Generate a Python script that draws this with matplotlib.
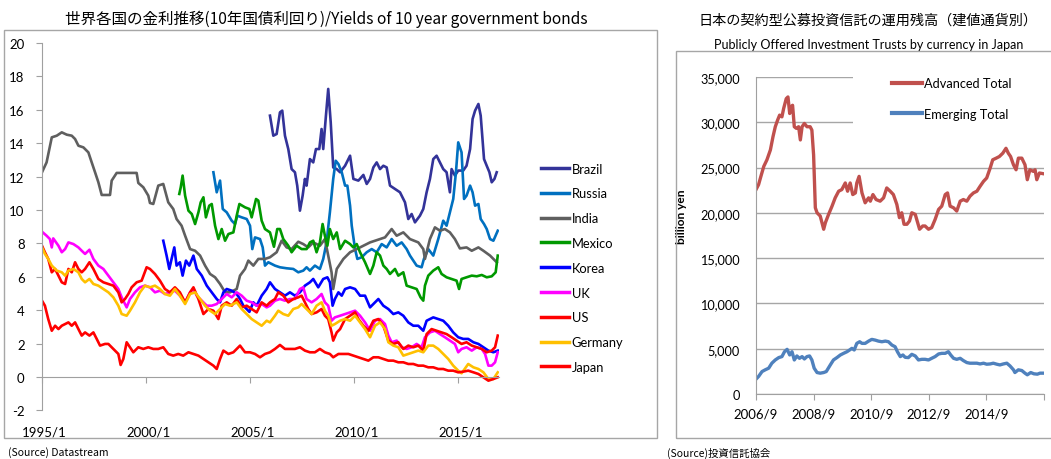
import matplotlib
matplotlib.use("Agg")
import matplotlib.pyplot as plt
import matplotlib.transforms as mtransforms
from matplotlib.patches import Rectangle
from matplotlib.ticker import FuncFormatter

plt.rcParams['axes.unicode_minus'] = False
NUMFONT = ['Lato', 'DejaVu Sans']
JPFONT = ['Noto Sans CJK JP', 'DejaVu Sans']

# ---------------- Left chart data (decimal year, % yield) ----------------
brazil_t = [2005.96, 2006.12, 2006.28, 2006.44, 2006.55, 2006.68, 2006.84, 2007.00, 2007.16, 2007.27, 2007.40, 2007.53, 2007.64, 2007.72, 2007.88, 2008.04, 2008.17, 2008.33, 2008.44, 2008.52, 2008.65, 2008.76, 2008.88, 2009.00, 2009.17, 2009.33, 2009.57, 2009.81, 2009.97, 2010.21, 2010.45, 2010.61, 2010.77, 2010.93, 2011.09, 2011.25, 2011.41, 2011.57, 2011.73, 2011.97, 2012.21, 2012.45, 2012.61, 2012.77, 2012.93, 2013.17, 2013.33, 2013.49, 2013.65, 2013.81, 2013.97, 2014.13, 2014.29, 2014.45, 2014.61, 2014.69, 2014.85, 2015.01, 2015.25, 2015.41, 2015.58, 2015.70, 2015.82, 2015.98, 2016.09, 2016.25, 2016.38, 2016.51, 2016.62, 2016.75, 2016.86]
brazil_v = [15.65, 14.45, 14.55, 15.85, 15.95, 14.45, 13.65, 12.45, 12.26, 11.46, 9.96, 10.86, 11.86, 11.46, 13.05, 12.85, 13.65, 13.65, 14.85, 13.65, 15.65, 17.25, 15.25, 12.55, 12.45, 12.26, 12.65, 13.25, 11.86, 11.76, 12.10, 11.56, 11.86, 12.55, 12.85, 12.45, 12.65, 12.55, 11.46, 11.26, 11.06, 10.46, 9.46, 9.76, 9.26, 9.66, 10.06, 11.06, 11.86, 13.05, 13.25, 12.85, 12.45, 12.26, 11.06, 12.45, 12.06, 12.36, 12.36, 12.65, 13.65, 15.45, 15.95, 16.35, 15.65, 13.05, 12.65, 12.26, 11.66, 11.86, 12.26]

russia_t = [2003.24, 2003.40, 2003.56, 2003.69, 2003.88, 2004.12, 2004.28, 2004.39, 2004.60, 2004.84, 2005.00, 2005.11, 2005.24, 2005.48, 2005.61, 2005.72, 2005.88, 2006.20, 2006.44, 2006.76, 2007.08, 2007.32, 2007.56, 2007.72, 2007.88, 2008.12, 2008.36, 2008.52, 2008.68, 2008.84, 2009.00, 2009.12, 2009.25, 2009.41, 2009.57, 2009.68, 2009.81, 2009.89, 2010.05, 2010.16, 2010.37, 2010.61, 2010.85, 2011.09, 2011.33, 2011.57, 2011.81, 2012.05, 2012.29, 2012.53, 2012.69, 2013.01, 2013.25, 2013.36, 2013.57, 2013.81, 2014.05, 2014.29, 2014.45, 2014.61, 2014.77, 2014.90, 2015.01, 2015.17, 2015.29, 2015.41, 2015.58, 2015.70, 2015.82, 2015.98, 2016.09, 2016.25, 2016.38, 2016.54, 2016.70, 2016.91]
russia_v = [12.26, 11.06, 11.76, 10.06, 9.86, 9.36, 9.16, 9.66, 9.56, 9.46, 9.06, 7.66, 8.36, 8.26, 7.76, 6.67, 6.87, 6.67, 6.57, 6.51, 6.47, 6.27, 6.37, 6.57, 6.37, 6.67, 6.47, 7.07, 8.06, 9.86, 11.86, 12.95, 12.75, 12.26, 11.46, 11.46, 10.26, 9.06, 7.66, 7.07, 7.17, 7.47, 7.66, 7.47, 7.96, 7.76, 8.26, 7.86, 8.06, 7.66, 7.27, 6.67, 6.57, 7.07, 7.66, 7.27, 8.26, 9.36, 9.06, 9.86, 10.66, 12.26, 14.05, 13.45, 10.66, 10.86, 11.46, 11.06, 10.26, 10.36, 9.46, 9.16, 8.86, 8.26, 8.16, 8.76]

india_t = [1995.00, 1995.22, 1995.47, 1995.71, 1995.95, 1996.19, 1996.43, 1996.59, 1996.75, 1996.99, 1997.23, 1997.39, 1997.55, 1997.71, 1997.87, 1998.27, 1998.35, 1998.59, 1999.55, 1999.63, 1999.87, 2000.11, 2000.19, 2000.35, 2000.59, 2000.83, 2001.07, 2001.31, 2001.47, 2001.71, 2001.88, 2002.12, 2002.36, 2002.60, 2002.84, 2003.08, 2003.32, 2003.56, 2003.80, 2004.04, 2004.36, 2004.52, 2004.76, 2004.92, 2005.16, 2005.40, 2005.72, 2005.96, 2006.28, 2006.52, 2006.76, 2007.00, 2007.32, 2007.56, 2007.80, 2008.04, 2008.36, 2008.60, 2008.76, 2008.92, 2009.00, 2009.17, 2009.49, 2009.81, 2010.13, 2010.45, 2010.77, 2011.25, 2011.49, 2011.81, 2012.05, 2012.37, 2012.69, 2013.09, 2013.33, 2013.41, 2013.65, 2013.89, 2014.13, 2014.37, 2014.61, 2014.85, 2015.09, 2015.41, 2015.66, 2015.98, 2016.22, 2016.54, 2016.86]
india_v = [12.26, 12.85, 14.35, 14.45, 14.65, 14.51, 14.45, 14.25, 13.85, 13.75, 13.45, 12.85, 12.26, 11.66, 10.90, 10.90, 11.76, 12.22, 12.22, 11.62, 11.36, 10.86, 10.42, 10.36, 11.46, 11.56, 10.46, 10.06, 9.46, 9.06, 8.46, 7.66, 7.56, 7.27, 6.67, 6.17, 5.97, 5.57, 5.07, 5.07, 5.27, 6.07, 6.47, 6.97, 6.67, 7.07, 7.07, 7.17, 7.47, 8.16, 7.76, 7.66, 8.10, 7.96, 7.76, 8.06, 7.86, 8.26, 7.27, 6.27, 5.27, 6.47, 7.07, 7.47, 7.66, 7.86, 8.06, 8.26, 8.36, 8.86, 8.46, 8.66, 8.26, 8.06, 7.66, 7.07, 8.26, 8.96, 8.76, 8.86, 8.66, 8.26, 7.70, 7.76, 7.56, 7.76, 7.56, 7.27, 6.87]

mexico_t = [2001.60, 2001.67, 2001.76, 2001.88, 2002.04, 2002.20, 2002.36, 2002.52, 2002.63, 2002.76, 2002.88, 2003.04, 2003.16, 2003.32, 2003.48, 2003.64, 2003.80, 2003.96, 2004.20, 2004.36, 2004.49, 2004.76, 2004.97, 2005.08, 2005.29, 2005.40, 2005.56, 2005.72, 2005.96, 2006.15, 2006.31, 2006.44, 2006.60, 2006.84, 2007.00, 2007.24, 2007.48, 2007.72, 2007.88, 2008.04, 2008.20, 2008.36, 2008.49, 2008.60, 2008.72, 2008.84, 2009.00, 2009.17, 2009.33, 2009.57, 2009.81, 2009.97, 2010.13, 2010.29, 2010.53, 2010.77, 2010.93, 2011.09, 2011.25, 2011.41, 2011.57, 2011.73, 2011.97, 2012.13, 2012.37, 2012.53, 2012.77, 2013.01, 2013.20, 2013.33, 2013.41, 2013.57, 2013.81, 2014.05, 2014.21, 2014.45, 2014.69, 2014.93, 2015.05, 2015.17, 2015.41, 2015.66, 2015.90, 2016.14, 2016.38, 2016.62, 2016.81, 2016.91]
mexico_v = [10.96, 11.36, 12.06, 10.86, 9.96, 9.76, 9.16, 9.86, 10.46, 10.76, 9.56, 10.26, 10.36, 9.06, 8.26, 8.86, 8.16, 8.56, 8.66, 9.66, 10.36, 10.16, 10.06, 9.56, 10.66, 10.56, 9.36, 8.86, 8.66, 7.80, 8.86, 8.86, 8.26, 7.86, 7.47, 7.86, 7.66, 7.66, 8.06, 8.16, 7.47, 8.06, 9.16, 8.46, 7.86, 8.86, 8.26, 8.66, 7.66, 8.16, 7.96, 7.76, 7.96, 7.47, 6.87, 6.17, 6.67, 7.47, 7.27, 6.67, 6.47, 6.17, 6.47, 6.07, 6.27, 5.47, 5.37, 5.27, 4.77, 4.57, 5.47, 6.07, 6.37, 6.57, 6.17, 5.97, 5.87, 5.77, 5.27, 5.87, 5.97, 6.07, 6.03, 6.11, 5.97, 6.03, 6.27, 7.27]

korea_t = [2000.83, 2000.99, 2001.12, 2001.23, 2001.36, 2001.47, 2001.63, 2001.76, 2001.92, 2002.08, 2002.28, 2002.44, 2002.68, 2002.92, 2003.16, 2003.40, 2003.56, 2003.72, 2003.88, 2004.12, 2004.36, 2004.52, 2004.68, 2004.97, 2005.16, 2005.32, 2005.56, 2005.80, 2005.96, 2006.20, 2006.44, 2006.68, 2006.92, 2007.16, 2007.40, 2007.64, 2007.88, 2008.04, 2008.28, 2008.52, 2008.72, 2008.84, 2008.97, 2009.08, 2009.25, 2009.41, 2009.57, 2009.81, 2010.05, 2010.29, 2010.53, 2010.77, 2011.01, 2011.17, 2011.41, 2011.65, 2011.89, 2012.13, 2012.37, 2012.61, 2012.85, 2013.09, 2013.33, 2013.49, 2013.81, 2014.05, 2014.29, 2014.53, 2014.77, 2015.01, 2015.25, 2015.49, 2015.74, 2015.98, 2016.22, 2016.46, 2016.70, 2016.91]
korea_v = [8.16, 7.27, 6.47, 7.07, 7.76, 6.67, 6.87, 6.07, 6.97, 6.67, 7.27, 6.47, 6.07, 5.47, 5.07, 4.67, 4.47, 5.07, 5.27, 5.17, 4.97, 4.67, 4.27, 3.90, 4.47, 4.27, 4.87, 5.27, 5.67, 5.27, 5.07, 4.87, 5.07, 4.87, 5.07, 5.47, 5.67, 5.87, 5.37, 5.87, 5.97, 5.67, 4.27, 4.67, 5.07, 4.87, 5.27, 5.37, 5.27, 4.87, 4.87, 4.17, 4.47, 4.67, 4.27, 4.07, 3.77, 3.87, 3.67, 3.27, 3.07, 3.07, 2.77, 3.37, 3.57, 3.47, 3.37, 3.07, 2.67, 2.38, 2.28, 2.28, 2.08, 1.98, 1.78, 1.58, 1.48, 1.58]

uk_t = [1995.00, 1995.22, 1995.38, 1995.47, 1995.54, 1995.79, 1995.95, 1996.11, 1996.27, 1996.51, 1996.75, 1996.91, 1997.07, 1997.28, 1997.47, 1997.71, 1997.95, 1998.19, 1998.43, 1998.67, 1998.83, 1999.07, 1999.23, 1999.47, 1999.71, 1999.95, 2000.19, 2000.43, 2000.67, 2000.91, 2001.15, 2001.39, 2001.63, 2001.88, 2002.12, 2002.28, 2002.44, 2002.68, 2002.92, 2003.16, 2003.40, 2003.64, 2003.88, 2004.12, 2004.36, 2004.60, 2004.84, 2005.08, 2005.32, 2005.56, 2005.80, 2005.96, 2006.20, 2006.44, 2006.68, 2006.92, 2007.16, 2007.40, 2007.56, 2007.72, 2007.96, 2008.20, 2008.44, 2008.60, 2008.76, 2008.92, 2009.08, 2009.33, 2009.57, 2009.81, 2010.05, 2010.29, 2010.53, 2010.77, 2011.01, 2011.25, 2011.49, 2011.65, 2011.81, 2012.05, 2012.29, 2012.53, 2012.77, 2013.01, 2013.25, 2013.41, 2013.65, 2013.89, 2014.13, 2014.37, 2014.61, 2014.85, 2015.01, 2015.17, 2015.41, 2015.66, 2015.90, 2016.14, 2016.30, 2016.46, 2016.62, 2016.78, 2016.91]
uk_v = [8.70, 8.46, 8.26, 7.76, 8.30, 7.86, 7.47, 7.66, 8.06, 7.96, 7.76, 7.56, 7.37, 7.62, 7.07, 6.67, 6.47, 6.07, 5.67, 5.27, 4.77, 4.17, 4.67, 5.07, 5.37, 5.47, 5.37, 5.07, 5.17, 4.97, 5.07, 5.17, 4.87, 4.47, 5.07, 5.27, 4.87, 4.57, 4.27, 4.27, 4.37, 4.67, 4.97, 4.77, 5.07, 4.87, 4.57, 4.47, 4.27, 4.37, 4.17, 4.27, 4.57, 4.67, 4.57, 4.67, 4.67, 5.27, 5.37, 4.67, 4.47, 4.67, 4.97, 4.47, 4.27, 3.37, 3.57, 3.67, 3.77, 3.87, 3.97, 3.67, 3.27, 2.77, 3.37, 3.47, 3.17, 2.48, 2.08, 2.18, 1.78, 1.68, 1.78, 1.98, 1.78, 2.38, 2.67, 2.77, 2.57, 2.38, 2.18, 1.98, 1.48, 1.68, 1.78, 1.58, 1.78, 1.68, 1.38, 0.68, 0.68, 0.88, 1.48]

us_t = [1995.00, 1995.14, 1995.30, 1995.47, 1995.63, 1995.79, 1995.95, 1996.11, 1996.27, 1996.43, 1996.59, 1996.75, 1996.91, 1997.07, 1997.28, 1997.47, 1997.71, 1997.95, 1998.19, 1998.43, 1998.67, 1998.83, 1998.99, 1999.15, 1999.31, 1999.55, 1999.79, 2000.03, 2000.19, 2000.43, 2000.67, 2000.91, 2001.15, 2001.39, 2001.63, 2001.88, 2002.12, 2002.28, 2002.52, 2002.76, 2003.00, 2003.24, 2003.48, 2003.64, 2003.88, 2004.12, 2004.36, 2004.60, 2004.84, 2005.08, 2005.32, 2005.56, 2005.80, 2005.96, 2006.20, 2006.36, 2006.60, 2006.84, 2007.08, 2007.32, 2007.48, 2007.64, 2007.80, 2007.96, 2008.20, 2008.44, 2008.60, 2008.76, 2008.92, 2009.00, 2009.17, 2009.33, 2009.57, 2009.81, 2010.05, 2010.21, 2010.45, 2010.69, 2010.93, 2011.17, 2011.41, 2011.65, 2011.89, 2012.13, 2012.37, 2012.61, 2012.85, 2013.09, 2013.33, 2013.49, 2013.73, 2013.97, 2014.21, 2014.45, 2014.69, 2014.93, 2015.17, 2015.41, 2015.66, 2015.90, 2016.14, 2016.38, 2016.62, 2016.78, 2016.91]
us_v = [7.86, 7.47, 7.07, 6.27, 6.47, 6.07, 5.67, 5.57, 6.47, 6.27, 6.87, 6.47, 6.27, 6.47, 6.87, 6.47, 5.87, 5.67, 5.57, 5.47, 5.07, 4.47, 4.67, 4.97, 5.37, 5.67, 5.77, 6.57, 6.47, 6.17, 5.77, 5.27, 5.07, 5.37, 5.07, 4.47, 5.07, 5.37, 4.67, 3.77, 4.07, 3.97, 3.47, 4.27, 4.47, 4.27, 4.67, 4.17, 4.27, 4.07, 3.87, 4.47, 4.27, 4.47, 4.67, 5.07, 4.87, 4.47, 4.67, 4.77, 4.87, 4.47, 4.07, 3.77, 3.87, 4.07, 3.67, 3.47, 2.67, 2.18, 2.67, 2.87, 3.47, 3.67, 3.87, 3.47, 3.07, 2.77, 3.37, 3.47, 3.07, 2.18, 1.98, 2.08, 1.68, 1.88, 1.78, 1.88, 1.58, 2.57, 2.87, 2.77, 2.67, 2.57, 2.38, 2.18, 1.98, 2.08, 1.88, 1.78, 1.68, 1.48, 1.58, 1.78, 2.48]

germany_t = [1995.00, 1995.14, 1995.30, 1995.47, 1995.71, 1995.95, 1996.11, 1996.27, 1996.51, 1996.75, 1996.91, 1997.07, 1997.28, 1997.47, 1997.71, 1997.95, 1998.19, 1998.43, 1998.67, 1998.83, 1999.07, 1999.23, 1999.47, 1999.71, 1999.95, 2000.19, 2000.43, 2000.67, 2000.91, 2001.15, 2001.39, 2001.63, 2001.88, 2002.12, 2002.36, 2002.60, 2002.84, 2003.08, 2003.32, 2003.56, 2003.80, 2004.04, 2004.36, 2004.60, 2004.84, 2005.08, 2005.32, 2005.56, 2005.80, 2005.96, 2006.20, 2006.36, 2006.60, 2006.84, 2007.08, 2007.32, 2007.48, 2007.72, 2007.96, 2008.20, 2008.44, 2008.60, 2008.76, 2008.92, 2009.08, 2009.33, 2009.57, 2009.81, 2010.05, 2010.29, 2010.53, 2010.77, 2011.01, 2011.25, 2011.49, 2011.65, 2011.89, 2012.13, 2012.37, 2012.61, 2012.85, 2013.09, 2013.33, 2013.57, 2013.81, 2014.05, 2014.29, 2014.53, 2014.77, 2015.01, 2015.17, 2015.49, 2015.74, 2015.98, 2016.22, 2016.46, 2016.70, 2016.91]
germany_v = [7.76, 7.37, 7.07, 6.67, 6.37, 6.27, 6.07, 6.37, 6.47, 6.27, 5.87, 5.67, 5.87, 5.57, 5.47, 5.27, 5.07, 4.77, 4.27, 3.77, 3.67, 3.97, 4.47, 5.07, 5.47, 5.37, 5.47, 5.27, 4.97, 4.87, 5.27, 4.87, 4.37, 4.97, 5.07, 4.67, 4.27, 3.97, 3.77, 4.07, 4.37, 4.27, 4.47, 4.07, 3.77, 3.47, 3.27, 3.07, 3.37, 3.27, 3.67, 3.97, 3.77, 3.67, 4.07, 4.17, 4.37, 4.07, 3.77, 4.27, 4.47, 3.97, 3.67, 3.07, 3.17, 3.37, 3.47, 3.37, 3.67, 3.27, 2.87, 2.38, 3.07, 3.27, 2.87, 2.08, 1.88, 1.78, 1.28, 1.38, 1.48, 1.58, 1.48, 1.88, 1.88, 1.68, 1.38, 1.08, 0.68, 0.38, 0.22, 0.78, 0.58, 0.48, 0.28, -0.12, -0.12, 0.28]

japan_t = [1995.00, 1995.14, 1995.30, 1995.47, 1995.63, 1995.79, 1995.95, 1996.11, 1996.27, 1996.43, 1996.59, 1996.75, 1996.91, 1997.07, 1997.28, 1997.47, 1997.63, 1997.79, 1998.03, 1998.19, 1998.35, 1998.51, 1998.67, 1998.78, 1998.91, 1999.07, 1999.23, 1999.39, 1999.63, 1999.87, 2000.11, 2000.35, 2000.59, 2000.83, 2001.07, 2001.31, 2001.55, 2001.79, 2002.04, 2002.28, 2002.52, 2002.76, 2003.00, 2003.24, 2003.40, 2003.56, 2003.72, 2003.96, 2004.20, 2004.36, 2004.52, 2004.76, 2005.00, 2005.24, 2005.48, 2005.72, 2005.96, 2006.20, 2006.44, 2006.68, 2006.92, 2007.16, 2007.40, 2007.64, 2007.88, 2008.12, 2008.36, 2008.60, 2008.84, 2009.00, 2009.25, 2009.49, 2009.73, 2009.97, 2010.21, 2010.45, 2010.69, 2010.93, 2011.17, 2011.41, 2011.65, 2011.89, 2012.13, 2012.37, 2012.61, 2012.85, 2013.09, 2013.33, 2013.57, 2013.81, 2014.05, 2014.29, 2014.53, 2014.77, 2015.01, 2015.25, 2015.49, 2015.74, 2015.98, 2016.22, 2016.46, 2016.70, 2016.91]
japan_v = [4.57, 4.27, 3.47, 2.77, 3.07, 2.87, 3.07, 3.17, 3.27, 3.07, 3.27, 2.87, 2.48, 2.67, 2.48, 2.67, 2.28, 1.88, 1.98, 1.98, 1.78, 1.58, 1.38, 0.72, 1.08, 2.08, 1.78, 1.48, 1.78, 1.68, 1.78, 1.68, 1.68, 1.78, 1.38, 1.28, 1.38, 1.28, 1.48, 1.38, 1.28, 1.08, 0.88, 0.68, 0.48, 1.08, 1.58, 1.38, 1.48, 1.68, 1.88, 1.48, 1.48, 1.38, 1.18, 1.38, 1.48, 1.68, 1.92, 1.68, 1.68, 1.68, 1.78, 1.58, 1.48, 1.48, 1.68, 1.48, 1.38, 1.18, 1.38, 1.38, 1.38, 1.28, 1.18, 1.08, 0.98, 1.18, 1.18, 1.08, 0.98, 0.98, 0.88, 0.88, 0.78, 0.78, 0.68, 0.68, 0.58, 0.58, 0.48, 0.48, 0.38, 0.38, 0.28, 0.32, 0.38, 0.28, 0.18, -0.02, -0.22, -0.12, -0.02]

left_series = [
    ("Brazil", brazil_t, brazil_v, "#333399"),
    ("Russia", russia_t, russia_v, "#0070C0"),
    ("India", india_t, india_v, "#5F5F5F"),
    ("Mexico", mexico_t, mexico_v, "#009900"),
    ("Korea", korea_t, korea_v, "#0000FF"),
    ("UK", uk_t, uk_v, "#FF00FF"),
    ("US", us_t, us_v, "#FF0000"),
    ("Germany", germany_t, germany_v, "#FFC000"),
    ("Japan", japan_t, japan_v, "#FF0000"),
]
left_xticks = [1995, 2000, 2005, 2010, 2015]
left_xlabels = ["1995/1", "2000/1", "2005/1", "2010/1", "2015/1"]
left_yticks = list(range(-2, 21, 2))

# ---------------- Right chart data (decimal year, billion yen) ----------------
adv_t = [2006.67, 2006.76, 2006.84, 2006.94, 2007.05, 2007.17, 2007.26, 2007.34, 2007.42, 2007.49, 2007.57, 2007.63, 2007.72, 2007.78, 2007.84, 2007.88, 2007.94, 2008.00, 2008.07, 2008.15, 2008.21, 2008.27, 2008.35, 2008.44, 2008.55, 2008.61, 2008.67, 2008.73, 2008.79, 2008.90, 2009.02, 2009.08, 2009.19, 2009.31, 2009.42, 2009.54, 2009.65, 2009.77, 2009.85, 2009.94, 2010.03, 2010.12, 2010.17, 2010.25, 2010.35, 2010.46, 2010.58, 2010.64, 2010.73, 2010.84, 2010.98, 2011.10, 2011.21, 2011.33, 2011.44, 2011.56, 2011.65, 2011.73, 2011.81, 2011.91, 2012.00, 2012.08, 2012.20, 2012.25, 2012.35, 2012.46, 2012.54, 2012.66, 2012.77, 2012.89, 2013.01, 2013.12, 2013.24, 2013.32, 2013.41, 2013.53, 2013.64, 2013.76, 2013.87, 2013.99, 2014.10, 2014.22, 2014.34, 2014.45, 2014.57, 2014.68, 2014.80, 2014.89, 2015.01, 2015.12, 2015.24, 2015.35, 2015.43, 2015.51, 2015.61, 2015.70, 2015.78, 2015.90, 2016.01, 2016.09, 2016.18, 2016.30, 2016.36, 2016.42, 2016.51, 2016.65]
adv_v = [22570, 23120, 24030, 25130, 25860, 26950, 28410, 29510, 30240, 30790, 30600, 31520, 32610, 32800, 30970, 31700, 31880, 29510, 29330, 29510, 28050, 29510, 29870, 29510, 29510, 29140, 26400, 20560, 20010, 19650, 18190, 18920, 19830, 20740, 21660, 22390, 22570, 23300, 22390, 23300, 22020, 22200, 23300, 24030, 22200, 21110, 21660, 21290, 22020, 21470, 21290, 21660, 22750, 22390, 22020, 20930, 19470, 20010, 18740, 18740, 19100, 20010, 19830, 19280, 18190, 18550, 18550, 18190, 18370, 19280, 20380, 20740, 22020, 22200, 20740, 20560, 20200, 21290, 21470, 21290, 21840, 22200, 22390, 22930, 23480, 23850, 24940, 25860, 26040, 26220, 26590, 27130, 26590, 26220, 25310, 24760, 26040, 26040, 25310, 23660, 24760, 24580, 24760, 23660, 24400, 24320]

emg_t = [2006.67, 2006.76, 2006.88, 2006.99, 2007.11, 2007.22, 2007.34, 2007.46, 2007.57, 2007.66, 2007.75, 2007.84, 2007.92, 2008.00, 2008.09, 2008.18, 2008.27, 2008.35, 2008.44, 2008.53, 2008.61, 2008.69, 2008.79, 2008.90, 2009.02, 2009.11, 2009.25, 2009.36, 2009.48, 2009.60, 2009.71, 2009.83, 2009.92, 2010.00, 2010.08, 2010.17, 2010.27, 2010.35, 2010.46, 2010.58, 2010.69, 2010.81, 2010.92, 2011.04, 2011.16, 2011.27, 2011.39, 2011.50, 2011.58, 2011.68, 2011.77, 2011.85, 2011.96, 2012.08, 2012.20, 2012.31, 2012.43, 2012.54, 2012.66, 2012.77, 2012.89, 2013.01, 2013.12, 2013.24, 2013.35, 2013.43, 2013.53, 2013.64, 2013.76, 2013.87, 2013.99, 2014.10, 2014.22, 2014.34, 2014.45, 2014.57, 2014.68, 2014.80, 2014.91, 2015.03, 2015.14, 2015.26, 2015.38, 2015.49, 2015.61, 2015.66, 2015.78, 2015.90, 2016.01, 2016.09, 2016.21, 2016.32, 2016.44, 2016.53, 2016.65]
emg_v = [1640, 1940, 2480, 2670, 2850, 3400, 3760, 4020, 4130, 4670, 4930, 4310, 4670, 3760, 4200, 3940, 4130, 3870, 4130, 4200, 3760, 2850, 2370, 2300, 2370, 2480, 3210, 3760, 4020, 4310, 4490, 4670, 4860, 5040, 4860, 5590, 5770, 5590, 5590, 5840, 6030, 5950, 5840, 5770, 5840, 5770, 5400, 5220, 4670, 4130, 4310, 4050, 4020, 4380, 4200, 3760, 3830, 3830, 3760, 3940, 4130, 4420, 4490, 4490, 4670, 4310, 3940, 3830, 3940, 3690, 3470, 3400, 3400, 3400, 3320, 3400, 3290, 3320, 3400, 3290, 3210, 3320, 3400, 3100, 2670, 2370, 2670, 2590, 2300, 2120, 2370, 2230, 2190, 2300, 2300]

right_xticks = [2006.67, 2008.67, 2010.67, 2012.67, 2014.67, 2016.67]
right_xlabels = ["2006/9", "2008/9", "2010/9", "2012/9", "2014/9", ""]
right_yticks = list(range(0, 35001, 5000))

# ---------------- Figure ----------------
W, H = 1051, 460
fig = plt.figure(figsize=(W / 100, H / 100), dpi=100)


def fx(px):
    return px / W


def fy(py):
    return 1 - py / H


# outer frames
fig.add_artist(Rectangle((fx(4), fy(439)), fx(657 - 4), (439 - 31) / H,
                         transform=fig.transFigure, fill=False, ec="#A6A6A6", lw=1.0))
fig.add_artist(Rectangle((fx(676), fy(439)), fx(1060 - 676), (439 - 52) / H,
                         transform=fig.transFigure, fill=False, ec="#A6A6A6", lw=1.0))

# ---------- left axes ----------
ax = fig.add_axes([fx(42), fy(411.4), fx(499 - 42), (411.4 - 44) / H])
for name, t, v, c in left_series:
    ax.plot(t, v, color=c, lw=1.9, label=name, solid_joinstyle="round")
ax.set_xlim(1995.0, 2016.97)
ax.set_ylim(-2, 20)
ax.set_yticks(left_yticks)
ax.set_yticklabels([str(v) for v in left_yticks])
ax.set_xticks(left_xticks)
ax.set_xticklabels(left_xlabels)
for s in ["top", "right"]:
    ax.spines[s].set_visible(False)
ax.spines["left"].set_color("#A0A0A0")
ax.spines["bottom"].set_color("#A0A0A0")
ax.spines["bottom"].set_position(("data", 0))
ax.tick_params(axis="y", direction="out", length=4, color="#A0A0A0", pad=8.5,
               labelsize=9.5)
ax.tick_params(axis="x", direction="out", length=4, color="#A0A0A0", pad=31,
               labelsize=9.5)
for lab in ax.get_xticklabels() + ax.get_yticklabels():
    lab.set_family(NUMFONT)
offset = mtransforms.ScaledTranslation(-20 / 100, 0, fig.dpi_scale_trans)
for lab in ax.get_xticklabels():
    lab.set_horizontalalignment("left")
    lab.set_transform(lab.get_transform() + offset)

leg = ax.legend(loc="upper left", bbox_to_anchor=(fx(529), fy(152)),
                bbox_transform=fig.transFigure, frameon=False,
                prop={"family": NUMFONT, "size": 9.3}, handlelength=2.2,
                handletextpad=0.2, labelspacing=0.99)
for ln in leg.get_lines():
    ln.set_linewidth(2.5)

fig.text(fx(326), fy(19), "世界各国の金利推移(10年国債利回り)/Yields of 10 year government bonds",
         ha="center", va="center", fontsize=11.2, family=JPFONT)
fig.text(fx(8), fy(453), "(Source) Datastream", ha="left", va="center",
         fontsize=7.5, family=JPFONT)

# ---------- right axes ----------
ax2 = fig.add_axes([fx(756), fy(395), fx(1044 - 756), (395 - 78) / H])
ax2.plot(emg_t, emg_v, color="#4F81BD", lw=2.4, label="Emerging Total",
         solid_joinstyle="round")
ax2.plot(adv_t, adv_v, color="#C0504D", lw=2.4, label="Advanced Total",
         solid_joinstyle="round")
ax2.set_xlim(2006.67, 2016.66)
ax2.set_ylim(0, 35000)
ax2.set_yticks(right_yticks)
ax2.yaxis.set_major_formatter(FuncFormatter(lambda v, p: f"{int(v):,}"))
ax2.set_xticks(right_xticks)
ax2.set_xticklabels(right_xlabels)
ax2.grid(axis="y", color="#A6A6A6", lw=1.0)
ax2.set_axisbelow(True)
for s in ["top", "right"]:
    ax2.spines[s].set_visible(False)
ax2.spines["left"].set_color("#A0A0A0")
ax2.spines["bottom"].set_color("#A0A0A0")
ax2.tick_params(axis="y", length=0, pad=11.5, labelsize=9.2)
ax2.tick_params(axis="x", direction="out", length=4, color="#A0A0A0", pad=6,
                labelsize=9.5)
for lab in ax2.get_xticklabels() + ax2.get_yticklabels():
    lab.set_family(NUMFONT)
ax2.set_ylabel("billion yen", family=NUMFONT, fontsize=8.6, fontweight="bold")
ax2.yaxis.set_label_coords((687 - 756) / 288, (395 - 217) / 317)

# white panel behind the legend hides the upper gridlines there
ax2.add_patch(Rectangle(((853 - 756) / 288, (395 - 135) / 317), 1.0, 0.3,
                        transform=ax2.transAxes, fc="white", ec="none",
                        zorder=1.5, clip_on=False))
h, l = ax2.get_legend_handles_labels()
leg2 = ax2.legend(h[::-1], l[::-1], loc="upper left", bbox_to_anchor=(fx(886), fy(72)),
                  bbox_transform=fig.transFigure, frameon=False,
                  prop={"family": NUMFONT, "size": 9.2}, handlelength=2.3,
                  handletextpad=0.2, labelspacing=1.45, borderpad=0.0)
for ln in leg2.get_lines():
    ln.set_linewidth(3)

fig.text(fx(868), fy(21), "日本の契約型公募投資信託の運用残高（建値通貨別）",
         ha="center", va="center", fontsize=10.2, family=JPFONT)
fig.text(fx(869), fy(45), "Publicly Offered Investment Trusts by currency in Japan",
         ha="center", va="center", fontsize=9, family=NUMFONT)
fig.text(fx(667), fy(453), "(Source)投資信託協会", ha="left", va="center",
         fontsize=7.5, family=JPFONT)

fig.savefig("out.png", dpi=100)
